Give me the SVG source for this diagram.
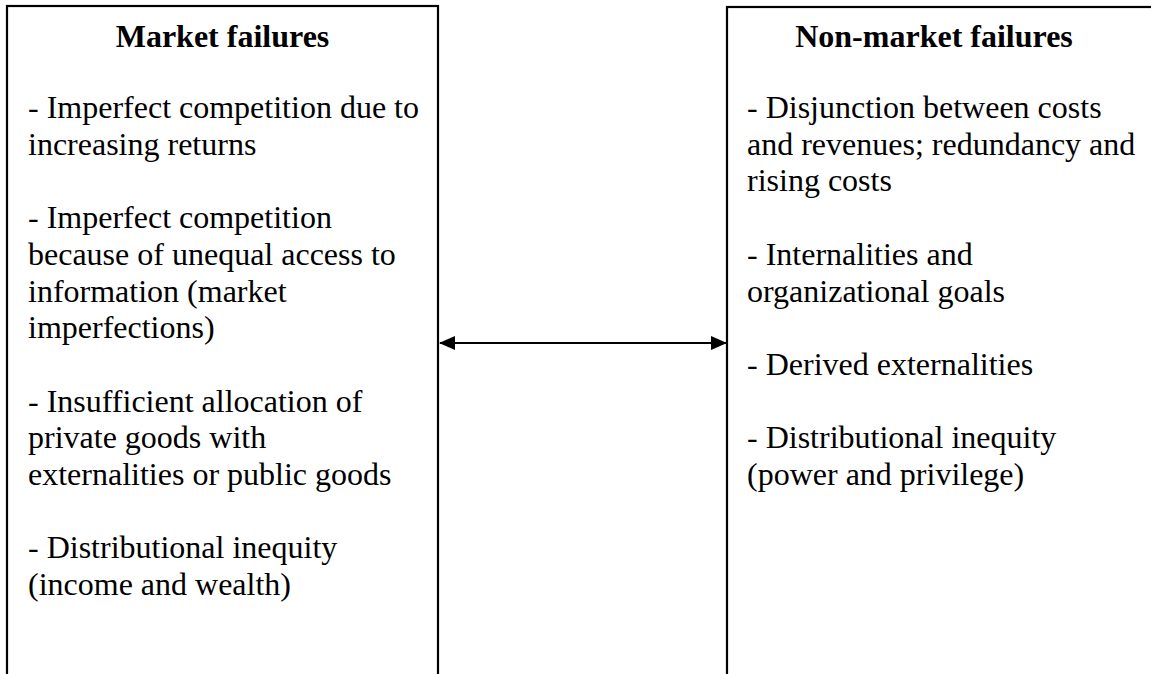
<svg xmlns="http://www.w3.org/2000/svg" width="1151" height="674" viewBox="0 0 1151 674">
  <defs>
    <style>
      .box { fill: #ffffff; stroke: #000000; stroke-width: 2.2; }
      .title { font-family: "Liberation Serif", "Times New Roman", serif; font-size: 32px; font-weight: bold; fill: #000000; text-anchor: middle; }
      .body { font-family: "Liberation Serif", "Times New Roman", serif; font-size: 32px; fill: #000000; }
      .conn { stroke: #000000; stroke-width: 2; fill: none; }
    </style>
    <marker id="arrow" viewBox="0 0 16 14" refX="15" refY="7" markerWidth="16" markerHeight="14" markerUnits="userSpaceOnUse" orient="auto-start-reverse">
      <path d="M0,0 L16,7 L0,14 Z" fill="#000000"/>
    </marker>
  </defs>
  <rect width="1151" height="674" fill="#ffffff"/>

  <g id="market-failures">
    <rect class="box" x="7" y="6" width="431" height="720"/>
    <text class="title" x="222.5" y="47">Market failures</text>
    <text class="body" x="28" y="118">- Imperfect competition due to</text>
    <text class="body" x="28" y="154.7">increasing returns</text>
    <text class="body" x="28" y="228.1">- Imperfect competition</text>
    <text class="body" x="28" y="264.8">because of unequal access to</text>
    <text class="body" x="28" y="301.5">information (market</text>
    <text class="body" x="28" y="338.2">imperfections)</text>
    <text class="body" x="28" y="411.6">- Insufficient allocation of</text>
    <text class="body" x="28" y="448.3">private goods with</text>
    <text class="body" x="28" y="485">externalities or public goods</text>
    <text class="body" x="28" y="558.4">- Distributional inequity</text>
    <text class="body" x="28" y="595.1">(income and wealth)</text>
  </g>

  <g id="non-market-failures">
    <rect class="box" x="727" y="7" width="460" height="720"/>
    <text class="title" x="934" y="47">Non-market failures</text>
    <text class="body" x="747" y="118">- Disjunction between costs</text>
    <text class="body" x="747" y="154.7">and revenues; redundancy and</text>
    <text class="body" x="747" y="191.4">rising costs</text>
    <text class="body" x="747" y="264.8">- Internalities and</text>
    <text class="body" x="747" y="301.5">organizational goals</text>
    <text class="body" x="747" y="374.9">- Derived externalities</text>
    <text class="body" x="747" y="448.3">- Distributional inequity</text>
    <text class="body" x="747" y="485">(power and privilege)</text>
  </g>

  <g id="connectors">
    <line class="conn" x1="440" y1="343" x2="726" y2="343" marker-start="url(#arrow)" marker-end="url(#arrow)"/>
  </g>
</svg>
